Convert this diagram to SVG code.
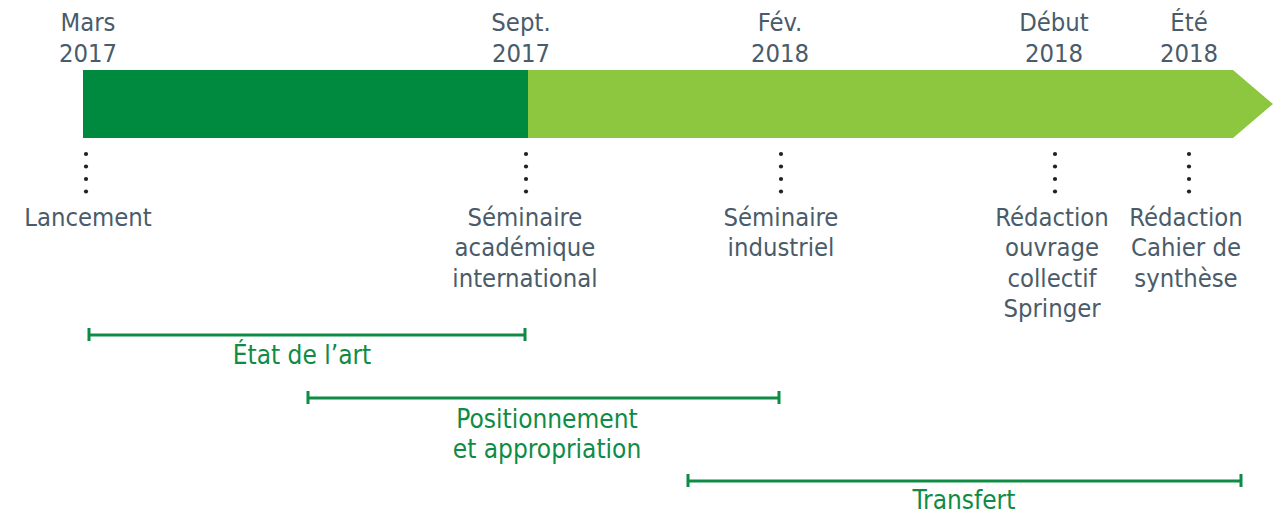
<svg xmlns="http://www.w3.org/2000/svg" width="1276" height="516" viewBox="0 0 1276 516">
<style>
.t{font-family:"DejaVu Sans Condensed","DejaVu Sans",sans-serif;font-stretch:condensed;font-size:25.4px;fill:#4a5b6a;text-anchor:middle}
.g{font-family:"DejaVu Sans Condensed","DejaVu Sans",sans-serif;font-stretch:condensed;font-size:26px;fill:#0e8c45;text-anchor:middle}
.dot{fill:#222}
.rng{stroke:#0e8c45;stroke-width:3;fill:none}
</style>
<defs>
<g id="dots"><circle cx="0" cy="154" r="2.1"/><circle cx="0" cy="166.5" r="2.1"/><circle cx="0" cy="179" r="2.1"/><circle cx="0" cy="191.5" r="2.1"/></g>
</defs>
<rect width="1276" height="516" fill="#fff"/>
<g id="timeline">
<rect x="83" y="70" width="445" height="68" fill="#008a40"/>
<polygon points="528,70 1233,70 1273,104 1233,138 528,138" fill="#8dc63f"/>
</g>
<g id="connectors">
<use href="#dots" x="86" class="dot"/>
<use href="#dots" x="526" class="dot"/>
<use href="#dots" x="781" class="dot"/>
<use href="#dots" x="1055" class="dot"/>
<use href="#dots" x="1189" class="dot"/>
</g>
<g id="n-mars"><text class="t" x="88" y="31">Mars</text><text class="t" x="88" y="62">2017</text><text class="t" x="88" y="226">Lancement</text></g>
<g id="n-sept"><text class="t" x="521" y="31">Sept.</text><text class="t" x="521" y="62">2017</text><text class="t" x="525" y="226">Séminaire</text><text class="t" x="525" y="256">académique</text><text class="t" x="525" y="287">international</text></g>
<g id="n-fev"><text class="t" x="780" y="31">Fév.</text><text class="t" x="780" y="62">2018</text><text class="t" x="781" y="226">Séminaire</text><text class="t" x="781" y="256">industriel</text></g>
<g id="n-debut"><text class="t" x="1054" y="31">Début</text><text class="t" x="1054" y="62">2018</text><text class="t" x="1052" y="226">Rédaction</text><text class="t" x="1052" y="256">ouvrage</text><text class="t" x="1052" y="287">collectif</text><text class="t" x="1052" y="317">Springer</text></g>
<g id="n-ete"><text class="t" x="1189" y="31">Été</text><text class="t" x="1189" y="62">2018</text><text class="t" x="1186" y="226">Rédaction</text><text class="t" x="1186" y="256">Cahier de</text><text class="t" x="1186" y="287">synthèse</text></g>
<g id="r-etat"><path class="rng" d="M89,335H525M89,328v13M525,328v13"/><text class="g" x="302" y="364">État de l’art</text></g>
<g id="r-pos"><path class="rng" d="M308,398H779M308,391v13M779,391v13"/><text class="g" x="547" y="428">Positionnement</text><text class="g" x="547" y="458">et appropriation</text></g>
<g id="r-transfert"><path class="rng" d="M688,481H1241M688,474v13M1241,474v13"/><text class="g" x="964" y="509">Transfert</text></g>
</svg>
